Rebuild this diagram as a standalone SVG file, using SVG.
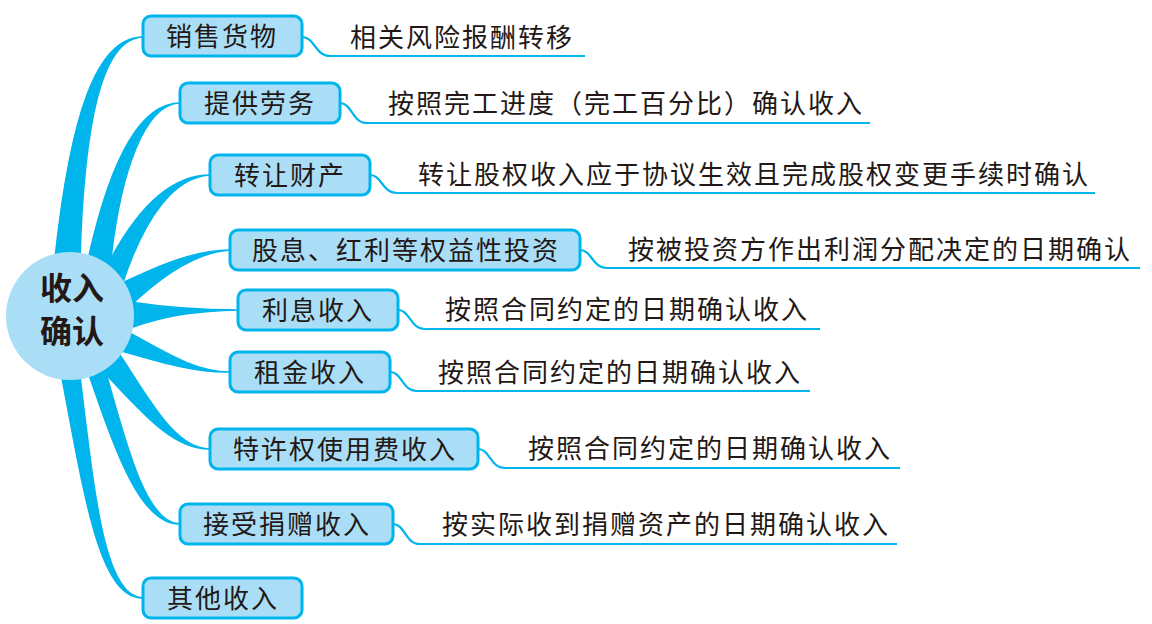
<svg xmlns="http://www.w3.org/2000/svg" width="1152" height="624" viewBox="0 0 1152 624">
<style>
.br{fill:#00b4ec;stroke:#00b4ec;stroke-width:1.5;stroke-linejoin:round}
.ln{fill:none;stroke:#00b4ec;stroke-width:2.2}
.box{fill:#a9def6;stroke:#00b4ec;stroke-width:3}
.t{font-family:"Noto Sans CJK SC","Noto Sans",sans-serif;font-size:26px;letter-spacing:2px;fill:#231815}
.c{font-family:"Noto Sans CJK SC",sans-serif;font-size:32px;font-weight:bold;fill:#231815;text-anchor:middle}
</style>
<rect width="1152" height="624" fill="#fff"/>
<g id="connectors">
<path class="br" d="M55,258 C70,120 95,37 143,37 C100,38 84,130 80,258 Z"/>
<path class="br" d="M88,260 C110,160 140,103 180,103 C145,104 120,170 110,268 Z"/>
<path class="br" d="M105,270 C135,210 170,175 210,175 C175,177 145,215 122,285 Z"/>
<path class="br" d="M118,285 C160,265 195,250 230,250 C200,252 165,272 128,308 Z"/>
<path class="br" d="M130,302 C170,308 200,310 238,310 C200,311 170,314 130,328 Z"/>
<path class="br" d="M128,332 C165,352 195,372 230,372 C195,373 160,362 118,350 Z"/>
<path class="br" d="M118,352 C150,400 175,449 210,449 C172,450 140,410 100,368 Z"/>
<path class="br" d="M103,362 C125,440 145,524 180,524 C140,525 115,450 88,372 Z"/>
<path class="br" d="M80,376 C95,500 105,598 143,598 C100,599 85,500 62,378 Z"/>
<path class="ln" d="M302,37 C315,37 315,56 330,56 H585"/>
<path class="ln" d="M340,103 C352,103 352,123 367,123 H870"/>
<path class="ln" d="M370,175 C382,175 382,193 397,193 H1095"/>
<path class="ln" d="M580,250 C592,250 592,268 607,268 H1140"/>
<path class="ln" d="M398,310 C410,310 410,329 425,329 H820"/>
<path class="ln" d="M390,372 C402,372 402,391 417,391 H810"/>
<path class="ln" d="M478,449 C490,449 490,468 505,468 H900"/>
<path class="ln" d="M393,524 C405,524 405,544 420,544 H897"/>
</g>
<g id="center"><circle cx="70" cy="316" r="64" fill="#a9def6"/><text class="c" x="72" y="300">收入</text><text class="c" x="72" y="343">确认</text></g>
<g id="n1"><rect class="box" x="143" y="16" width="159" height="40" rx="8"/><text class="t" x="166" y="46">销售货物</text><text class="t" x="350" y="47">相关风险报酬转移</text></g>
<g id="n2"><rect class="box" x="180" y="83" width="160" height="40" rx="8"/><text class="t" x="204" y="113">提供劳务</text><text class="t" x="388" y="113">按照完工进度（完工百分比）确认收入</text></g>
<g id="n3"><rect class="box" x="210" y="155" width="160" height="40" rx="8"/><text class="t" x="234" y="185">转让财产</text><text class="t" x="418" y="184">转让股权收入应于协议生效且完成股权变更手续时确认</text></g>
<g id="n4"><rect class="box" x="230" y="230" width="350" height="40" rx="8"/><text class="t" x="252" y="260">股息、红利等权益性投资</text><text class="t" x="628" y="259">按被投资方作出利润分配决定的日期确认</text></g>
<g id="n5"><rect class="box" x="238" y="290" width="160" height="40" rx="8"/><text class="t" x="262" y="320">利息收入</text><text class="t" x="445" y="319">按照合同约定的日期确认收入</text></g>
<g id="n6"><rect class="box" x="230" y="352" width="160" height="40" rx="8"/><text class="t" x="254" y="382">租金收入</text><text class="t" x="438" y="382">按照合同约定的日期确认收入</text></g>
<g id="n7"><rect class="box" x="210" y="429" width="268" height="40" rx="8"/><text class="t" x="233" y="459">特许权使用费收入</text><text class="t" x="528" y="458">按照合同约定的日期确认收入</text></g>
<g id="n8"><rect class="box" x="180" y="504" width="213" height="40" rx="8"/><text class="t" x="203" y="534">接受捐赠收入</text><text class="t" x="442" y="534">按实际收到捐赠资产的日期确认收入</text></g>
<g id="n9"><rect class="box" x="143" y="578" width="159" height="40" rx="8"/><text class="t" x="167" y="608">其他收入</text></g>
</svg>
